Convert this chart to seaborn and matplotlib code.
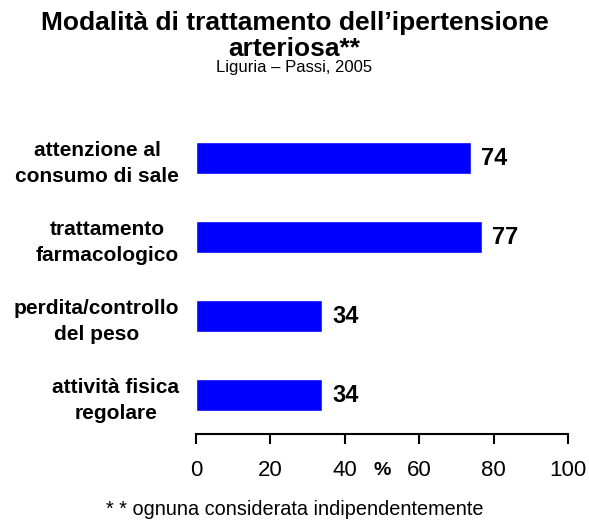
import matplotlib
matplotlib.use("Agg")
import matplotlib.pyplot as plt
import seaborn as sns
import pandas as pd

sns.set_style("white", {"text.color": "black", "xtick.color": "black",
                        "ytick.color": "black", "axes.labelcolor": "black"})
plt.rcParams['font.family'] = ['Liberation Sans', 'DejaVu Sans']

categories = [
    "attenzione al\nconsumo di sale",
    "trattamento\nfarmacologico",
    "perdita/controllo\ndel peso",
    "attività fisica\nregolare",
]
values = [74, 77, 34, 34]
x_ticks = [0, 20, 40, 60, 80, 100]

df = pd.DataFrame({"modalita": categories, "percentuale": values})

fig = plt.figure(figsize=(5.89, 5.24), dpi=100)
ax = fig.add_axes([0.3328, 0.1718, 0.6315, 0.6021])

sns.barplot(data=df, x="percentuale", y="modalita", orient="h",
            color="#0000FF", saturation=1, width=0.4, ax=ax)

ax.set_xlim(0, 100)
ax.set_ylim(3.49, -0.5)
ax.set_xticks(x_ticks)
ax.tick_params(axis="x", bottom=True, length=7, width=1.5, pad=12,
               labelsize=16, direction="out", color="black")
ax.tick_params(axis="y", left=False, length=0, pad=12, labelsize=15)
for lbl in ax.get_yticklabels():
    lbl.set_fontweight("bold")
    lbl.set_multialignment("center")
    lbl.set_linespacing(1.45)

for s in ["top", "right", "left"]:
    ax.spines[s].set_visible(False)
ax.spines["bottom"].set_linewidth(1.5)
ax.spines["bottom"].set_color("black")

ax.set_xlabel("")
ax.set_ylabel("")
ax.text(50, -0.117, "%", transform=ax.get_xaxis_transform(),
        ha="center", va="center", fontsize=14, fontweight="bold")

for c in ax.containers:
    ax.bar_label(c, fmt="%d", padding=7, fontsize=17, fontweight="bold")

fig.text(0.5, 0.956, "Modalità di trattamento dell\u2019ipertensione",
         ha="center", va="center", fontsize=19, fontweight="bold")
fig.text(0.5, 0.906, "arteriosa**",
         ha="center", va="center", fontsize=19, fontweight="bold")
fig.text(0.5, 0.872, "Liguria \u2013 Passi, 2005", ha="center", va="center", fontsize=12)
fig.text(0.5, 0.027, "* * ognuna considerata indipendentemente",
         ha="center", va="center", fontsize=14.3)

fig.savefig("out.png", dpi=100)
